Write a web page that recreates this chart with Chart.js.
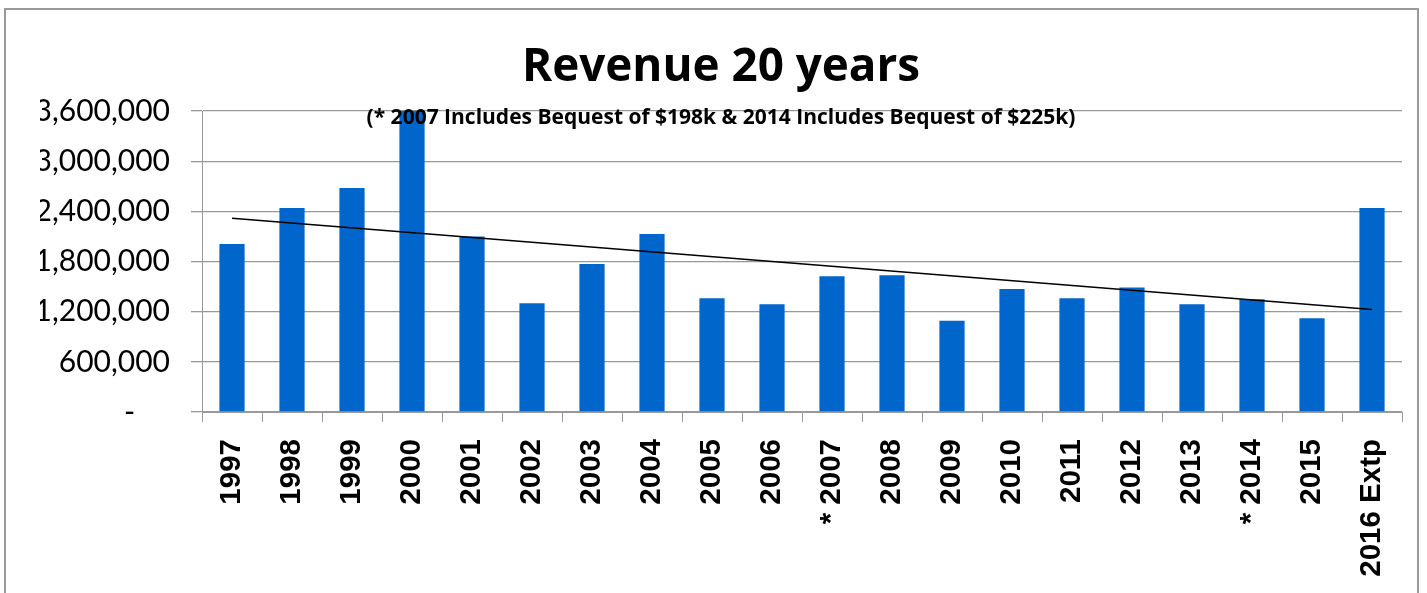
<!DOCTYPE html>
<html>
<head>
<meta charset="utf-8">
<script src="https://cdn.jsdelivr.net/npm/chart.js@4.4.1/dist/chart.umd.min.js"></script>
<style>
  body { margin: 0; background: #fff; }
  canvas { display: block; }
</style>
</head>
<body>
<canvas id="revenueChart" width="1427" height="593"></canvas>
<script>
// Revenue data
const years = ['1997', '1998', '1999', '2000', '2001', '2002', '2003', '2004', '2005', '2006',
    '* 2007', '2008', '2009', '2010', '2011', '2012', '2013', '* 2014', '2015', '2016 Extp'];
const revenue = [2010000, 2440000, 2680000, 3600000, 2100000, 1300000, 1770000, 2130000, 1360000, 1290000,
    1625000, 1635000, 1090000, 1470000, 1360000, 1490000, 1290000, 1350000, 1120000, 2440000];
const trend = [2316000, null, null, null, null, null, null, null, null, null,
    null, null, null, null, null, null, null, null, null, 1226000];
const yTicks = [0, 600000, 1200000, 1800000, 2400000, 3000000, 3600000];
const note = '(* 2007 Includes Bequest of $198k & 2014 Includes Bequest of $225k)';

// outer frame of the chart
const framePlugin = {
    id: 'frame',
    afterDraw(chart) {
        const ctx = chart.ctx;
        ctx.save();
        ctx.strokeStyle = '#9a9a9a';
        ctx.lineWidth = 2;
        ctx.strokeRect(5, 9, 1413, 620);
        ctx.restore();
    }
};

// bequest note sits on top of the bars, like in the original
const notePlugin = {
    id: 'note',
    afterDatasetsDraw(chart) {
        const ctx = chart.ctx;
        ctx.save();
        ctx.font = 'bold 21px "Open Sans"';
        ctx.fillStyle = '#000';
        ctx.textAlign = 'center';
        ctx.textBaseline = 'middle';
        ctx.fillText(note, (40 + chart.chartArea.right) / 2, chart.chartArea.top + 7.5);
        ctx.restore();
    }
};

const ctx = document.getElementById('revenueChart').getContext('2d');
new Chart(ctx, {
    type: 'bar',
    data: {
        labels: years,
        datasets: [{
            type: 'line',
            label: 'Trend',
            data: trend,
            borderColor: '#000',
            borderWidth: 1.5,
            pointRadius: 0,
            spanGaps: true,
            order: 0
        }, {
            label: 'Revenue',
            data: revenue,
            backgroundColor: '#0066cc',
            categoryPercentage: 1,
            barPercentage: 0.42,
            order: 1
        }]
    },
    options: {
        responsive: false,
        animation: false,
        layout: { padding: { left: 40, right: 25, top: 0, bottom: 0 } },
        plugins: {
            legend: { display: false },
            tooltip: { enabled: false },
            title: {
                display: true,
                text: 'Revenue 20 years',
                color: '#000',
                font: { family: 'Open Sans', size: 45.8, weight: 'bold', lineHeight: 1 },
                padding: { top: 45, bottom: 20.2 }
            }
        },
        scales: {
            x: {
                afterFit(scale) { scale.height = 181; },
                grid: {
                    display: true,
                    drawOnChartArea: false,
                    drawTicks: true,
                    tickLength: 10,
                    color: '#999',
                    offset: true
                },
                border: { display: true, color: '#999' },
                ticks: {
                    maxRotation: 90,
                    minRotation: 90,
                    autoSkip: false,
                    padding: 17,
                    color: '#000',
                    font: { family: 'Liberation Sans', size: 29.5, weight: 'bold' }
                }
            },
            y: {
                min: 0,
                max: 3600000,
                afterFit(scale) { scale.width = 162; },
                afterBuildTicks(scale) { scale.ticks = yTicks.map(v => ({ value: v })); },
                grid: {
                    color: '#999',
                    lineWidth: 1.3,
                    tickLength: 11
                },
                border: { display: true, color: '#999' },
                ticks: {
                    padding: 21,
                    color: '#000',
                    font: { family: 'Lato', size: 30 },
                    callback: v => v === 0 ? '-\u2007\u2007' : v.toLocaleString('en-US')
                }
            }
        }
    },
    plugins: [framePlugin, notePlugin]
});
</script>
</body>
</html>
